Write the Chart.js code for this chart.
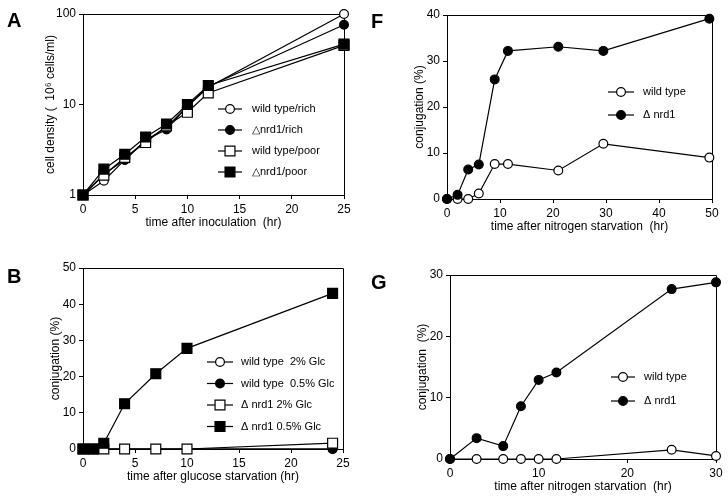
<!DOCTYPE html>
<html>
<head>
<meta charset="utf-8">
<script src="https://cdn.jsdelivr.net/npm/chart.js@4/dist/chart.umd.min.js"></script>
<style>
  body { margin: 0; background: #fff; width: 728px; height: 498px; position: relative; overflow: hidden;
         font-family: "Liberation Sans", Arial, Helvetica, sans-serif; }
  .panel { position: absolute; width: 364px; height: 249px; }
  .letter { position: absolute; font-weight: bold; font-size: 20px; line-height: 20px; color: #000; }
</style>
</head>
<body>
<div class="panel" style="left:0;top:0"><canvas id="chart_a" width="364" height="249"></canvas></div>
<div class="panel" style="left:364px;top:0"><canvas id="chart_f" width="364" height="249"></canvas></div>
<div class="panel" style="left:0;top:249px"><canvas id="chart_b" width="364" height="249"></canvas></div>
<div class="panel" style="left:364px;top:249px"><canvas id="chart_g" width="364" height="249"></canvas></div>
<div class="letter" style="left:7px;top:10px">A</div>
<div class="letter" style="left:371px;top:11px">F</div>
<div class="letter" style="left:7px;top:266px">B</div>
<div class="letter" style="left:371px;top:272px">G</div>
<script>
// panel A - growth (log scale)
const time_a = [0, 2, 4, 6, 8, 10, 12, 25];
const wt_rich = [1, 1.44, 2.44, 4.0, 5.6, 9.5, 15.5, 100];
const nrd_rich = [1, 1.7, 2.45, 4.05, 5.3, 9.6, 15.8, 76];
const wt_poor = [1, 1.66, 2.6, 3.8, 5.8, 8.2, 13.4, 45];
const nrd_poor = [1, 1.93, 2.82, 4.37, 6.1, 10, 16.2, 46.5];
const ticks_a_y = [1, 10, 100];

// panel B - glucose starvation
const time_b = [0, 1, 2, 4, 7, 10, 24];
const wt_2glc = [0, 0, 0, 0, 0, 0, 0];
const wt_05glc = [0, 0, 0, 0, 0, 0, 0];
const nrd_2glc = [0, 0, 0, 0, 0, 0, 1.6];
const nrd_05glc = [0, 0, 1.6, 12.5, 20.8, 27.8, 43];

// panel F - nitrogen starvation
const time_f = [0, 2, 4, 6, 9, 11.5, 21, 29.5, 49.5];
const wt_f = [0, 0, 0, 1.2, 7.6, 7.6, 6.2, 12, 9];
const nrd_f = [0, 0.9, 6.4, 7.5, 26, 32.2, 33.1, 32.2, 39.2];

// panel G - nitrogen starvation
const time_g = [0, 3, 6, 8, 10, 12, 25, 30];
const wt_g = [0, 0, 0, 0, 0, 0, 1.5, 0.5];
const nrd_g = [0, 3.4, 2.1, 8.6, 12.9, 14.1, 27.7, 28.8];

const FONT = '"Liberation Sans", Arial, Helvetica, sans-serif';

// box round the plot area (top and right side)
const framePlugin = {
  id: 'frame',
  beforeDatasetsDraw(chart){
    const a = chart.chartArea;
    const ctx = chart.ctx;
    ctx.save();
    ctx.strokeStyle = '#000';
    ctx.lineWidth = 1;
    ctx.beginPath();
    ctx.moveTo(Math.round(a.left) + 0.5, Math.round(a.top) + 0.5);
    ctx.lineTo(Math.round(a.right) + 0.5, Math.round(a.top) + 0.5);
    ctx.lineTo(Math.round(a.right) + 0.5, Math.round(a.bottom) + 0.5);
    ctx.stroke();
    ctx.restore();
  }
};

function marker(ctx, style, filled, r, x, y){
  ctx.fillStyle = filled ? '#000' : '#fff';
  ctx.beginPath();
  if (style === 'rect'){
    const h = r * Math.SQRT1_2;
    ctx.rect(x - h, y - h, 2 * h, 2 * h);
  }else{
    ctx.arc(x, y, r, 0, Math.PI * 2);
  }
  ctx.fill();
  ctx.stroke();
}

// legend drawn inside the plot, line + marker + label
const legendPlugin = {
  id: 'innerLegend',
  afterDraw(chart, args, opts){
    if (!opts || !opts.x) return;
    const ctx = chart.ctx;
    ctx.save();
    ctx.font = '11px ' + FONT;
    ctx.textBaseline = 'middle';
    ctx.strokeStyle = '#000';
    ctx.lineWidth = 1.2;
    chart.data.datasets.forEach(function(ds, i){
      const y = opts.y + i * opts.spacing;
      ctx.beginPath();
      ctx.moveTo(opts.x - opts.half, y);
      ctx.lineTo(opts.x + opts.half, y);
      ctx.stroke();
      marker(ctx, ds.pointStyle, ds.pointBackgroundColor === '#000', ds.pointRadius, opts.x, y);
      ctx.fillStyle = '#000';
      ctx.fillText(ds.label, opts.textX, y);
    });
    ctx.restore();
  }
};

function series(label, xs, ys, style, filled, order){
  return {
    label: label,
    data: xs.map((x, i) => ({x: x, y: ys[i]})),
    borderColor: '#000',
    borderWidth: 1.2,
    pointStyle: style,
    pointRadius: style === 'rect' ? 7 : 4.4,
    pointBackgroundColor: filled ? '#000' : '#fff',
    pointBorderColor: '#000',
    pointBorderWidth: 1.2,
    tension: 0,
    clip: false,
    order: order
  };
}

function generateChart(chart_id, datasets, o){
  const axis_common = {
    grid: { display: true, drawOnChartArea: false, drawTicks: true, tickLength: 4, color: '#000', lineWidth: 1 },
    border: { display: true, color: '#000', width: 1 },
    ticks: { color: '#000', font: { family: FONT, size: 12 }, padding: 3 },
    title: { display: true, color: '#000', font: { family: FONT, size: 12 }, padding: { top: 4, bottom: 4 } }
  };
  const x = JSON.parse(JSON.stringify(axis_common));
  x.type = 'linear';
  x.min = o.x_min; x.max = o.x_max;
  x.ticks.stepSize = o.x_step;
  x.ticks.maxRotation = 0;
  x.title.text = o.x_title;
  x.afterFit = function(s){ s.height = 39; };

  const y = JSON.parse(JSON.stringify(axis_common));
  y.type = o.y_type || 'linear';
  y.min = o.y_min; y.max = o.y_max;
  if (o.y_step) y.ticks.stepSize = o.y_step;
  if (o.y_ticks){
    y.afterBuildTicks = function(s){ s.ticks = o.y_ticks.map(v => ({value: v})); };
    y.ticks.callback = function(v){ return String(v); };
  }
  y.title.text = o.y_title;
  y.afterFit = function(s){ s.width = o.y_width; };

  return new Chart(document.getElementById(chart_id), {
    type: 'line',
    data: { datasets: datasets },
    options: {
      responsive: false,
      animation: false,
      devicePixelRatio: 1,
      layout: { padding: o.pad },
      plugins: { legend: { display: false }, tooltip: { enabled: false }, innerLegend: o.legend },
      scales: { x: x, y: y }
    },
    plugins: [framePlugin, legendPlugin]
  });
}

generateChart('chart_a', [
  series('wild type/rich', time_a, wt_rich, 'circle', false, 3),
  series('\u25B3nrd1/rich', time_a, nrd_rich, 'circle', true, 2),
  series('wild type/poor', time_a, wt_poor, 'rect', false, 1),
  series('\u25B3nrd1/poor', time_a, nrd_poor, 'rect', true, 0)
], {
  x_min: 0, x_max: 25, x_step: 5, x_title: 'time after inoculation  (hr)',
  y_type: 'logarithmic', y_min: 1, y_max: 100, y_ticks: ticks_a_y,
  y_title: 'cell density (  10\u2076 cells/ml)', y_width: 44,
  pad: { left: 39, right: 20, top: 14, bottom: 15 },
  legend: { x: 230, half: 12, textX: 252, y: 109, spacing: 21 }
});

generateChart('chart_f', [
  series('wild type', time_f, wt_f, 'circle', false, 1),
  series('\u0394 nrd1', time_f, nrd_f, 'circle', true, 0)
], {
  x_min: 0, x_max: 50, x_step: 10, x_title: 'time after nitrogen starvation  (hr)',
  y_min: 0, y_max: 40, y_step: 10, y_title: 'conjugation (%)', y_width: 39,
  pad: { left: 44, right: 16, top: 15, bottom: 11 },
  legend: { x: 257, half: 13, textX: 279, y: 92, spacing: 23 }
});

generateChart('chart_b', [
  series('wild type  2% Glc', time_b, wt_2glc, 'circle', false, 3),
  series('wild type  0.5% Glc', time_b, wt_05glc, 'circle', true, 2),
  series('\u0394 nrd1 2% Glc', time_b, nrd_2glc, 'rect', false, 1),
  series('\u0394 nrd1 0.5% Glc', time_b, nrd_05glc, 'rect', true, 0)
], {
  x_min: 0, x_max: 25, x_step: 5, x_title: 'time after glucose starvation (hr)',
  y_min: 0, y_max: 50, y_step: 10, y_title: 'conjugation (%)', y_width: 39,
  pad: { left: 44, right: 21, top: 19, bottom: 10 },
  legend: { x: 220, half: 13, textX: 241, y: 113, spacing: 21.5 }
});

generateChart('chart_g', [
  series('wild type', time_g, wt_g, 'circle', false, 1),
  series('\u0394 nrd1', time_g, nrd_g, 'circle', true, 0)
], {
  x_min: 0, x_max: 30, x_step: 10, x_title: 'time after nitrogen starvation  (hr)',
  y_min: 0, y_max: 30, y_step: 10, y_title: 'conjugation  (%)', y_width: 39,
  pad: { left: 47, right: 12, top: 26, bottom: 0 },
  legend: { x: 259, half: 12, textX: 280, y: 128, spacing: 24 }
});
</script>
</body>
</html>
